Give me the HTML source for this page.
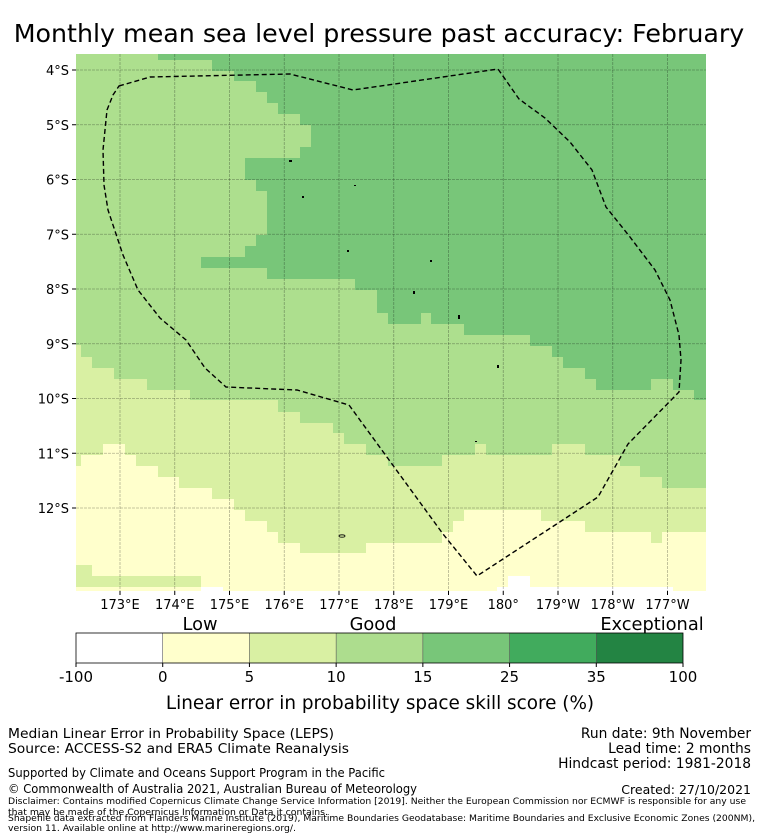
<!DOCTYPE html>
<html><head><meta charset="utf-8"><style>
html,body{margin:0;padding:0;background:#fff;}
svg{display:block;font-family:"DejaVu Sans","Liberation Sans",sans-serif;}
</style></head><body>
<svg id="fig" width="758" height="839" viewBox="0 0 758 839">
<text x="379" y="42" font-size="25.3" text-anchor="middle">Monthly mean sea level pressure past accuracy: February</text>
<defs><clipPath id="mc"><rect x="76" y="54" width="630" height="537"/></clipPath></defs>
<g clip-path="url(#mc)">
<rect x="76" y="54" width="630" height="537" fill="#addf8e"/>
<polygon fill="#78c679" points="158,54 706,54 706,400 694,400 694,390 673,390 673,379 651,379 651,390 596,390 596,379 585,379 585,368 563,368 563,357 552,357 552,346 530,346 530,335 464,335 464,324 431,324 431,313 421,313 421,324 388,324 388,313 377,313 377,290 355,290 355,279 267,279 267,268 201,268 201,257 245,257 245,246 256,246 256,235 267,235 267,191 256,191 256,180 245,180 245,158 300,158 300,147 311,147 311,125 300,125 300,114 278,114 278,103 267,103 267,92 256,92 256,81 234,81 234,71 212,71 212,60 158,60"/>
<polygon fill="#d9f0a3" points="76,345 81,345 81,357 92,357 92,368 114,368 114,379 147,379 147,390 190,390 190,400 278,400 278,412 300,412 300,423 333,423 333,433 344,433 344,444 366,444 366,455 388,455 388,466 442,466 442,455 475,455 475,444 486,444 486,455 552,455 552,444 585,444 585,455 620,455 620,466 640,466 640,477 662,477 662,488 706,488 706,591 76,591"/>
<polygon fill="#ffffcc" points="103,444 125,444 125,455 136,455 136,466 158,466 158,477 179,477 179,488 212,488 212,499 234,499 234,510 245,510 245,521 267,521 267,532 278,532 278,543 300,543 300,553 366,553 366,543 442,543 442,532 453,532 453,521 464,521 464,510 541,510 541,521 585,521 585,532 651,532 651,543 662,543 662,532 706,532 706,591 76,591 76,466 81,466 81,455 103,455"/>
<polygon fill="#d9f0a3" points="76,565 92,565 92,576 201,576 201,587 76,587"/>
<polygon fill="#ffffff" points="508,576 530,576 530,587 673,587 673,591 497,591 497,587 508,587"/>
<polygon fill="#ffffff" points="201,587 223,587 223,591 201,591"/>
<g id="grid" stroke="#000" stroke-opacity="0.3" stroke-width="0.8" stroke-dasharray="3,1"></g>
<polygon fill="none" stroke="#000" stroke-width="1.4" stroke-dasharray="5,3" points="119,86 150,77 290,74 353,90 498,69 519,99 545,118 570,142 592,170 606,207 630,237 655,270 670,300 679,335 681,360 679,392 628,444 598,497 477,576 443,534 349,405 297,390 226,387 205,368 186,340 160,318 138,290 123,255 118,240 108,210 104,185 103,150 107,110 113,95"/>
<g fill="#000">
<rect x="289" y="160" width="3" height="2"/><rect x="354" y="185" width="2" height="1"/><rect x="302" y="196" width="2" height="2"/><rect x="347" y="250" width="2" height="2"/><rect x="430" y="260" width="2" height="2"/><rect x="413" y="291" width="2" height="3"/><rect x="458" y="315" width="2" height="4"/><rect x="497" y="365" width="2" height="3"/><rect x="475" y="441" width="2" height="1"/><ellipse cx="342" cy="536" rx="3" ry="1.2" fill="none" stroke="#000" stroke-width="0.8"/>
</g>
</g>
<g id="axes" font-size="13"></g>
<g id="cbar"></g>
<g font-size="13">
<text x="8" y="738" textLength="326" lengthAdjust="spacingAndGlyphs">Median Linear Error in Probability Space (LEPS)</text>
<text x="8" y="753" textLength="341" lengthAdjust="spacingAndGlyphs">Source: ACCESS-S2 and ERA5 Climate Reanalysis</text>
<text x="8" y="777" font-size="12" textLength="377" lengthAdjust="spacingAndGlyphs">Supported by Climate and Oceans Support Program in the Pacific</text>
<text x="8" y="793" font-size="12" textLength="409" lengthAdjust="spacingAndGlyphs">© Commonwealth of Australia 2021, Australian Bureau of Meteorology</text>
<text x="8" y="804" font-size="9" textLength="738" lengthAdjust="spacingAndGlyphs">Disclaimer: Contains modified Copernicus Climate Change Service Information [2019]. Neither the European Commission nor ECMWF is responsible for any use</text>
<text x="8" y="815" font-size="9" textLength="320" lengthAdjust="spacingAndGlyphs">that may be made of the Copernicus Information or Data it contains.</text>
<text x="8" y="821" font-size="9" textLength="747" lengthAdjust="spacingAndGlyphs">Shapefile data extracted from Flanders Marine Institute (2019), Maritime Boundaries Geodatabase: Maritime Boundaries and Exclusive Economic Zones (200NM),</text>
<text x="8" y="831" font-size="9" textLength="288" lengthAdjust="spacingAndGlyphs">version 11. Available online at http://www.marineregions.org/.</text>
</g>
<g font-size="13.8" text-anchor="end">
<text x="751" y="738">Run date: 9th November</text>
<text x="751" y="753">Lead time: 2 months</text>
<text x="751" y="768">Hindcast period: 1981-2018</text>
<text x="751" y="794" font-size="12.5">Created: 27/10/2021</text>
</g>
</svg>
<script>
const lonTicks = [173,174,175,176,177,178,179,180,181,182,183];
const lonLabels = ["173°E","174°E","175°E","176°E","177°E","178°E","179°E","180°","179°W","178°W","177°W"];
const latTicks = [4,5,6,7,8,9,10,11,12];
const latLabels = ["4°S","5°S","6°S","7°S","8°S","9°S","10°S","11°S","12°S"];
const cbBounds = ["-100","0","5","10","15","25","35","100"];
const cbColors = ["#ffffff","#ffffcc","#d9f0a3","#addd8e","#78c679","#41ab5d","#238443"];
const cbCats = ["Low","Good","Exceptional"];
const NS="http://www.w3.org/2000/svg";
const xLon = l => 120 + (l-173)*54.75;
const yLat = l => 70 + (l-4)*54.75;
function mk(tag, attrs, parent){const e=document.createElementNS(NS,tag);for(const k in attrs)e.setAttribute(k,attrs[k]);parent.appendChild(e);return e;}
const grid=document.getElementById('grid'), axes=document.getElementById('axes');
lonTicks.forEach((l,i)=>{
  const x=xLon(l);
  const ln=mk('line',{x1:x,x2:x,y1:54,y2:591},grid);
  
  
  mk('line',{x1:x,x2:x,y1:591,y2:595,stroke:'#000','stroke-width':1},axes);
  const t=mk('text',{x:x,y:609,'text-anchor':'middle'},axes);
  t.textContent=lonLabels[i];
  
  
});
latTicks.forEach((l,i)=>{
  const y=yLat(l);
  const ln=mk('line',{x1:76,x2:706,y1:y,y2:y},grid);
  
  
  mk('line',{x1:72,x2:76,y1:y,y2:y,stroke:'#000','stroke-width':1},axes);
  const t=mk('text',{x:69,y:y+5,'text-anchor':'end'},axes);
  t.textContent=latLabels[i];
  
  
});
const cb=document.getElementById('cbar');
const cx0=76, cw=607, cy=633, ch=30, n=cbColors.length, sw=cw/n;
cbColors.forEach((c,i)=>{
  const r=mk('rect',{x:cx0+i*sw,y:cy,width:sw,height:ch,fill:c},cb);
  
  
});
for(let i=1;i<n;i++) mk('line',{x1:cx0+i*sw,x2:cx0+i*sw,y1:cy,y2:cy+ch,stroke:'#555','stroke-width':0.6},cb);
mk('rect',{x:cx0,y:cy,width:cw,height:ch,fill:'none',stroke:'#000','stroke-width':0.8},cb);
cbBounds.forEach((b,i)=>{
  const x=cx0+i*sw;
  mk('line',{x1:x,x2:x,y1:cy+ch,y2:cy+ch+4,stroke:'#000'},cb);
  const t=mk('text',{x:x,y:682,'font-size':15,'text-anchor':'middle'},cb);
  t.textContent=b;
  
  
});
const catX=[200,373,652];
cbCats.forEach((c,i)=>{
  const t=mk('text',{x:catX[i],y:630,'font-size':17.8,'text-anchor':'middle'},cb);
  t.textContent=c;
  
  
});
const tt=mk('text',{x:380,y:709,'font-size':18.4,'text-anchor':'middle'},cb);
tt.textContent="Linear error in probability space skill score (%)";


</script>
</body></html>
